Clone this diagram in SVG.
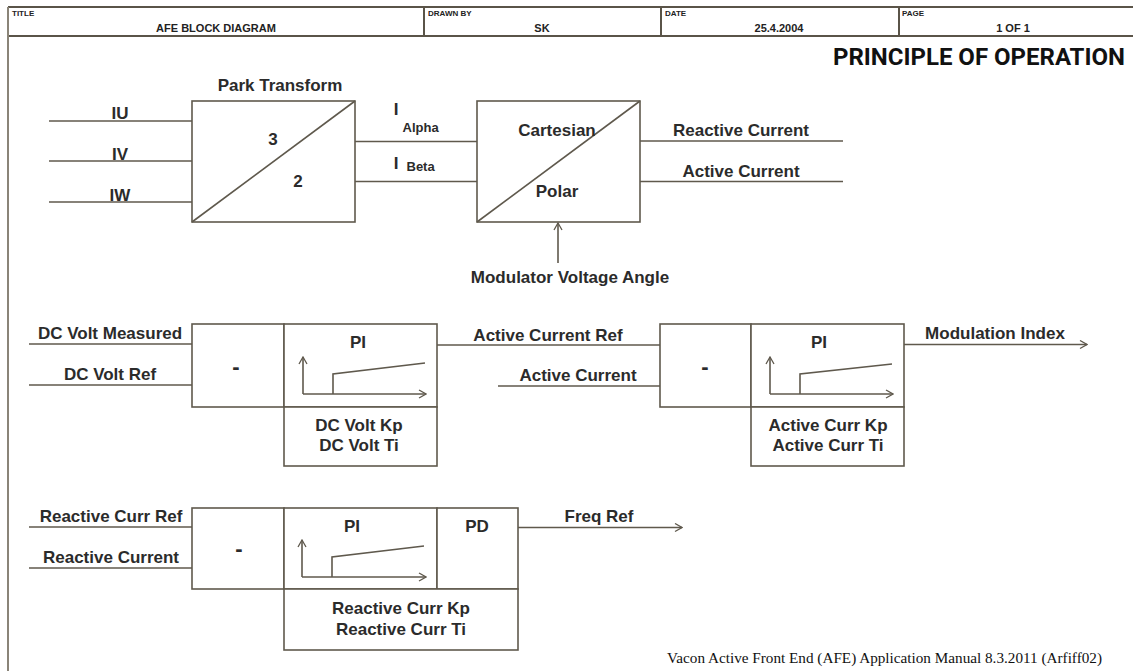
<svg xmlns="http://www.w3.org/2000/svg" width="1133" height="671" viewBox="0 0 1133 671">
<defs>
<style>
.ln{stroke:#5f594d;stroke-width:1.6;fill:none}
.bx{stroke:#5f594d;stroke-width:1.6;fill:#fff}
.hd{stroke:#5a5448;stroke-width:2;fill:none}
.t{font-family:"Liberation Sans",Arial,sans-serif;font-weight:bold;font-size:17px;fill:#2b2b2b;text-anchor:middle}
.m{font-family:"Liberation Sans",Arial,sans-serif;font-weight:bold;font-size:22px;fill:#2b2b2b;text-anchor:middle}
.s{font-family:"Liberation Sans",Arial,sans-serif;font-weight:bold;font-size:13px;fill:#2b2b2b}
.h{font-family:"Liberation Sans",Arial,sans-serif;font-weight:bold;font-size:8px;fill:#222}
.hv{font-family:"Liberation Sans",Arial,sans-serif;font-weight:bold;font-size:11px;fill:#222;text-anchor:middle}
</style>
<marker id="ah" viewBox="0 0 10 10" refX="9" refY="5" markerWidth="10" markerHeight="10" markerUnits="userSpaceOnUse" orient="auto">
<polyline points="2,1 9,5 2,9" fill="none" stroke="#5f594d" stroke-width="1.3"/>
</marker>
</defs>
<rect width="1133" height="671" fill="#fff"/>

<g id="header">
<line class="hd" x1="8" y1="7" x2="1133" y2="7"/>
<line class="hd" x1="8" y1="36" x2="1133" y2="36"/>
<line x1="8" y1="7" x2="8" y2="671" stroke="#8a8478" stroke-width="2"/>
<line class="hd" x1="424" y1="7" x2="424" y2="36"/>
<line class="hd" x1="661" y1="7" x2="661" y2="36"/>
<line class="hd" x1="899" y1="7" x2="899" y2="36"/>
<text class="h" x="12" y="16">TITLE</text>
<text class="hv" x="216" y="32">AFE BLOCK DIAGRAM</text>
<text class="h" x="428" y="16">DRAWN BY</text>
<text class="hv" x="542" y="32">SK</text>
<text class="h" x="665" y="16">DATE</text>
<text class="hv" x="779" y="32">25.4.2004</text>
<text class="h" x="902" y="16">PAGE</text>
<text class="hv" x="1013" y="32">1 OF 1</text>
</g>

<text x="1125" y="65" font-family="Roboto,'Liberation Sans',sans-serif" font-weight="bold" font-size="24" fill="#111" text-anchor="end">PRINCIPLE OF OPERATION</text>

<g id="connectors">
<line class="ln" x1="49" y1="121" x2="192" y2="121"/>
<line class="ln" x1="49" y1="161" x2="192" y2="161"/>
<line class="ln" x1="49" y1="202" x2="192" y2="202"/>
<line class="ln" x1="355" y1="141.5" x2="477" y2="141.5"/>
<line class="ln" x1="355" y1="181.5" x2="477" y2="181.5"/>
<line class="ln" x1="640" y1="141" x2="843" y2="141"/>
<line class="ln" x1="640" y1="181.5" x2="843" y2="181.5"/>
<line class="ln" x1="558" y1="263" x2="558" y2="223" marker-end="url(#ah)"/>
<line class="ln" x1="29" y1="344" x2="192" y2="344"/>
<line class="ln" x1="29" y1="385" x2="192" y2="385"/>
<line class="ln" x1="437" y1="345" x2="660" y2="345"/>
<line class="ln" x1="498" y1="386" x2="660" y2="386"/>
<line class="ln" x1="904" y1="344.5" x2="1087" y2="344.5" marker-end="url(#ah)"/>
<line class="ln" x1="29" y1="527" x2="192" y2="527"/>
<line class="ln" x1="29" y1="568" x2="192" y2="568"/>
<line class="ln" x1="518" y1="527.5" x2="682" y2="527.5" marker-end="url(#ah)"/>
</g>

<g id="labels">
<text class="t" x="120" y="119">IU</text>
<text class="t" x="120" y="160">IV</text>
<text class="t" x="120" y="201">IW</text>
<text class="t" x="396" y="115" font-size="18">I</text>
<text class="s" x="402.5" y="132">Alpha</text>
<text class="t" x="396" y="169" font-size="18">I</text>
<text class="s" x="406.5" y="171">Beta</text>
<text class="t" x="741" y="136">Reactive Current</text>
<text class="t" x="741" y="177">Active Current</text>
<text class="t" x="570" y="283">Modulator Voltage Angle</text>
<text class="t" x="110" y="339">DC Volt Measured</text>
<text class="t" x="110" y="380">DC Volt Ref</text>
<text class="t" x="548" y="341">Active Current Ref</text>
<text class="t" x="578" y="381">Active Current</text>
<text class="t" x="995" y="339">Modulation Index</text>
<text class="t" x="111" y="522">Reactive Curr Ref</text>
<text class="t" x="111" y="563">Reactive Current</text>
<text class="t" x="599" y="522">Freq Ref</text>
</g>

<g id="park">
<rect class="bx" x="192" y="101" width="163" height="121"/>
<line class="ln" x1="192" y1="222" x2="355" y2="101"/>
<text class="t" x="280" y="91">Park Transform</text>
<text class="t" x="273" y="145">3</text>
<text class="t" x="298" y="187">2</text>
</g>

<g id="cartesian">
<rect class="bx" x="477" y="101" width="163" height="121"/>
<line class="ln" x1="477" y1="222" x2="640" y2="101"/>
<text class="t" x="557" y="136">Cartesian</text>
<text class="t" x="557" y="197">Polar</text>
</g>

<g id="dcvolt">
<rect class="bx" x="192" y="324" width="92" height="83"/>
<text class="m" x="236" y="374">-</text>
<rect class="bx" x="284" y="324" width="153" height="83"/>
<text class="t" x="358" y="348">PI</text>
<line class="ln" x1="303" y1="394" x2="303" y2="357" marker-end="url(#ah)"/>
<line class="ln" x1="303" y1="394" x2="426" y2="394" marker-end="url(#ah)"/>
<polyline class="ln" points="333,394 333,374 425,363"/>
<rect class="bx" x="284" y="407" width="153" height="59"/>
<text class="t" x="359" y="431">DC Volt Kp</text>
<text class="t" x="359" y="451">DC Volt Ti</text>
</g>

<g id="activecurr">
<rect class="bx" x="660" y="324" width="91" height="83"/>
<text class="m" x="705" y="374">-</text>
<rect class="bx" x="751" y="324" width="153" height="83"/>
<text class="t" x="819" y="348">PI</text>
<line class="ln" x1="770" y1="394" x2="770" y2="357" marker-end="url(#ah)"/>
<line class="ln" x1="770" y1="394" x2="893" y2="394" marker-end="url(#ah)"/>
<polyline class="ln" points="800,394 800,374 892,364"/>
<rect class="bx" x="751" y="407" width="153" height="59"/>
<text class="t" x="828" y="431">Active Curr Kp</text>
<text class="t" x="828" y="451">Active Curr Ti</text>
</g>

<g id="reactivecurr">
<rect class="bx" x="192" y="508" width="92" height="81"/>
<text class="m" x="239" y="556">-</text>
<rect class="bx" x="284" y="508" width="153" height="81"/>
<text class="t" x="352" y="532">PI</text>
<line class="ln" x1="302" y1="577" x2="302" y2="540" marker-end="url(#ah)"/>
<line class="ln" x1="302" y1="577" x2="426" y2="577" marker-end="url(#ah)"/>
<polyline class="ln" points="332,577 332,557 424,546"/>
<rect class="bx" x="437" y="508" width="81" height="81"/>
<text class="t" x="477" y="532">PD</text>
<rect class="bx" x="284" y="589" width="234" height="61"/>
<text class="t" x="401" y="614">Reactive Curr Kp</text>
<text class="t" x="401" y="635">Reactive Curr Ti</text>
</g>

<text x="1102" y="663" font-family="'Liberation Serif','Times New Roman',serif" font-size="15" fill="#111" text-anchor="end" textLength="435" lengthAdjust="spacingAndGlyphs">Vacon Active Front End (AFE) Application Manual 8.3.2011 (Arfiff02)</text>
</svg>
